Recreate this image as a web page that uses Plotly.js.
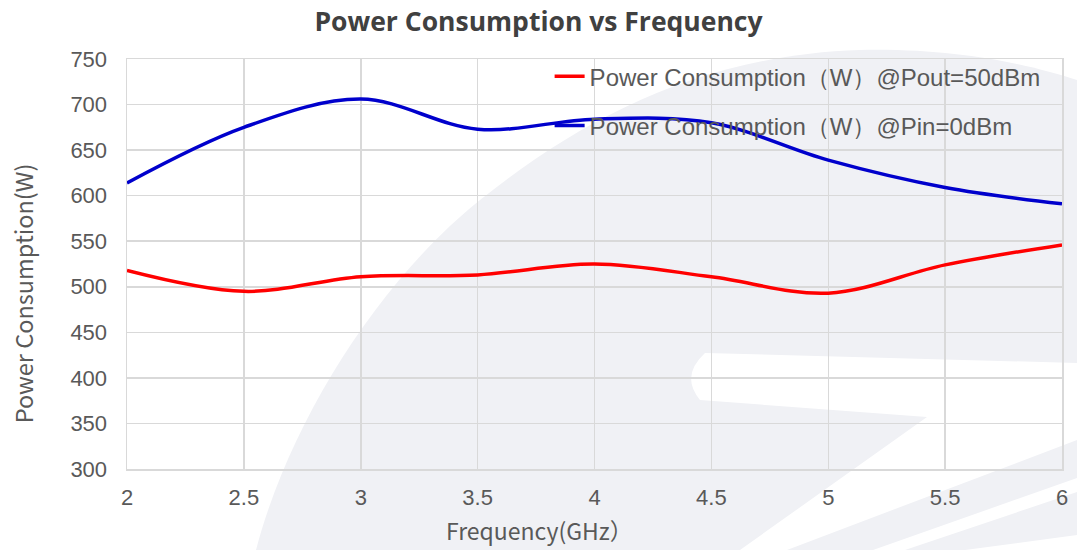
<!DOCTYPE html>
<html>
<head>
<meta charset="utf-8">
<script src="https://cdn.plot.ly/plotly-3.0.1.min.js"></script>
<style>
  html, body { margin: 0; padding: 0; background: #ffffff; }
  #wrap { position: relative; width: 1077px; height: 550px; overflow: hidden; }
  #bg { position: absolute; left: 0; top: 0; }
  #chart { position: absolute; left: 0; top: 0; width: 1077px; height: 550px; }
</style>
</head>
<body>
<div id="wrap">
  <svg id="bg" width="1077" height="550" xmlns="http://www.w3.org/2000/svg">
    <path d="M 256 550 C 290 420, 380 280, 480 200 C 580 120, 700 55, 860 50 C 960 48, 1030 65, 1077 80 L 1077 550 Z" fill="#f0f1f5"/>
    <path d="M 705 353 L 1077 363 L 1077 550 L 740 550 L 927 417 L 700 400 Q 680 376 705 353 Z" fill="#ffffff"/>
    <path d="M 787 550 L 1077 440 L 1077 478 L 873 550 Z" fill="#f0f1f5"/>
    <path d="M 905 550 L 1077 492 L 1077 535 L 965 550 Z" fill="#f0f1f5"/>
  </svg>
  <div id="chart"></div>
</div>
<script>
// Data
const frequencyGHz = [2, 2.5, 3, 3.5, 4, 4.5, 5, 5.5, 6];
const powerPout50dBm = [518, 495, 511, 513, 525, 511, 493, 524, 546];
const powerPin0dBm = [614, 675, 706, 673, 684, 680, 639, 609, 591];
const seriesNames = ["Power Consumption（W）@Pout=50dBm", "Power Consumption（W）@Pin=0dBm"];
const xTicks = [2, 2.5, 3, 3.5, 4, 4.5, 5, 5.5, 6];
const yTicks = [300, 350, 400, 450, 500, 550, 600, 650, 700, 750];

const traces = [
  {
    x: frequencyGHz, y: powerPout50dBm, name: seriesNames[0],
    type: "scatter", mode: "lines",
    line: { color: "#ff0000", width: 3.5, shape: "spline", smoothing: 1 },
    legendgroup: "a"
  },
  {
    x: frequencyGHz, y: powerPin0dBm, name: seriesNames[1],
    type: "scatter", mode: "lines",
    line: { color: "#0000cc", width: 3.5, shape: "spline", smoothing: 1 },
    legendgroup: "b"
  }
];

const gridCol = "#d9d9d9";
const textCol = "#595959";
const layout = {
  width: 1077, height: 550,
  paper_bgcolor: "rgba(0,0,0,0)",
  plot_bgcolor: "rgba(0,0,0,0)",
  margin: { l: 127, r: 15, t: 59, b: 81 },
  title: {
    text: "<b>Power Consumption vs Frequency</b>",
    font: { family: "Open Sans, Noto Sans, sans-serif", size: 26.5, color: "#404040" },
    x: 0.5, xanchor: "center", y: 0.96, yanchor: "middle"
  },
  xaxis: {
    range: [2, 6],
    tickvals: xTicks,
    ticktext: xTicks.map(String),
    showgrid: true, gridcolor: gridCol, gridwidth: 1.5,
    showline: true, linecolor: gridCol, linewidth: 1.5, mirror: true,
    zeroline: false, ticks: "",
    ticklabelstandoff: 8,
    tickfont: { family: "Liberation Sans, Arial, sans-serif", size: 22, color: textCol }
  },
  yaxis: {
    range: [300, 750],
    tickvals: yTicks,
    ticktext: yTicks.map(String),
    showgrid: true, gridcolor: gridCol, gridwidth: 1.5,
    showline: true, linecolor: gridCol, linewidth: 1.5, mirror: true,
    zeroline: false, ticks: "",
    ticklabelstandoff: 14,
    tickfont: { family: "Liberation Sans, Arial, sans-serif", size: 22, color: textCol }
  },
  annotations: [
    {
      text: "Frequency(GHz）", xref: "paper", yref: "paper",
      x: 0.4417, y: -0.149, xanchor: "center", yanchor: "middle", showarrow: false,
      font: { family: "Noto Sans CJK SC, Noto Sans, sans-serif", size: 23, color: textCol }
    },
    {
      text: "Power Consumption(W)", xref: "paper", yref: "paper", textangle: -90,
      x: -0.111, y: 0.429, xanchor: "center", yanchor: "middle", showarrow: false,
      font: { family: "Noto Sans CJK SC, Noto Sans, sans-serif", size: 23.5, color: textCol }
    }
  ],
  showlegend: true,
  legend: {
    x: 0.452, xanchor: "left", y: 1.012, yanchor: "top",
    bgcolor: "rgba(0,0,0,0)",
    font: { family: "Liberation Sans, Arial, sans-serif", size: 24, color: textCol },
    traceorder: "grouped", tracegroupgap: 15
  }
};

Plotly.newPlot("chart", traces, layout, { displayModeBar: false, staticPlot: true });
</script>
</body>
</html>
